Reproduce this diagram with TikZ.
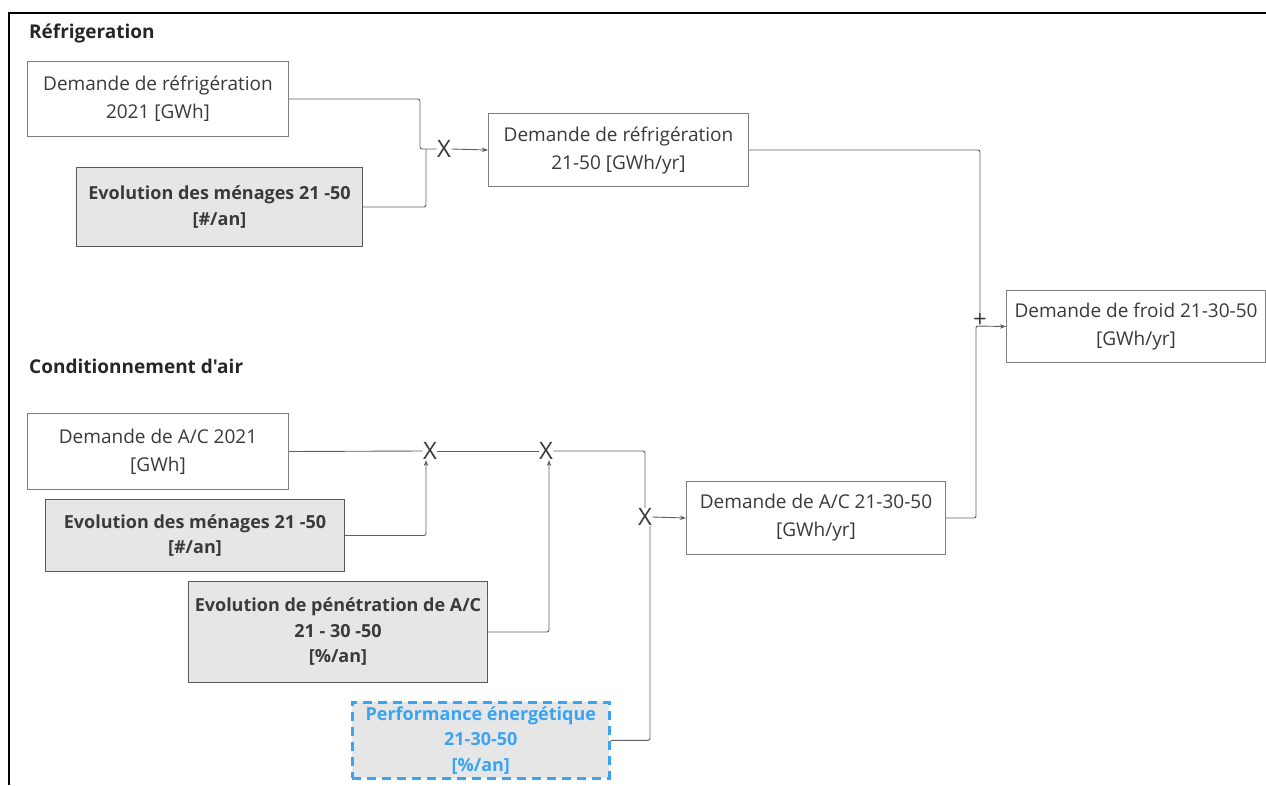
\documentclass[tikz,border=0pt]{standalone}
\usepackage{fontspec}
\setmainfont{Open Sans}
\newfontfamily\plainfont{Open Sans}
\usetikzlibrary{arrows.meta,calc}
\definecolor{txt}{HTML}{3A3A3A}
\definecolor{bord}{HTML}{7F7F7F}
\definecolor{gfill}{HTML}{E6E6E6}
\definecolor{gbord}{HTML}{5A5A5A}
\definecolor{blu}{HTML}{3AA3F2}
\definecolor{wire}{HTML}{5F5F5F}
\tikzset{
  box/.style={draw=bord, line width=1pt, fill=white, text=txt, align=center, anchor=north west, inner sep=0pt,
     font=\fontsize{19}{28}\selectfont},
  gbox/.style={box, fill=gfill, draw=gbord, font=\fontsize{18}{25.5}\selectfont\bfseries},
  bbox/.style={gbox, draw=blu, text=blu, dashed, dash pattern=on 9pt off 6pt, line width=2.6pt},
  title/.style={anchor=west, text=black!85, font=\fontsize{19}{22}\plainfont\bfseries, inner sep=0pt},
  xmark/.style={text=txt, inner sep=0.3pt, font=\fontsize{24}{24}\selectfont},
  conn/.style={draw=wire, line width=0.9pt, rounded corners=2pt},
  arr/.style={conn, -{Stealth[length=6pt,width=4.5pt]}},
}
\begin{document}
\begin{tikzpicture}[x=1pt,y=-1pt]
\useasboundingbox (0,0) rectangle (1266,785);
% frame
\draw[line width=2.6pt] (9,785) -- (9,13) -- (1266,13);
% titles
\node[title] (t1) at (29,34) {Réfrigeration};
\node[title] (t2) at (29,366) {Conditionnement d'air};
% refrigeration boxes
\node[box, minimum width=261pt, minimum height=75pt] (a1) at (27,61) {Demande de réfrigération\\2021 [GWh]};
\node[gbox, minimum width=286pt, minimum height=79pt] (a2) at (76,167) {Evolution des ménages 21 -50\\{}[\#/an]};
\node[box, minimum width=260pt, minimum height=73pt] (b) at (488,113) {Demande de réfrigération\\21-50 [GWh/yr]};
\node[box, minimum width=259pt, minimum height=72pt] (d) at (1006,290) {Demande de froid 21-30-50\\{}[GWh/yr]};
% AC boxes
\node[box, minimum width=261pt, minimum height=76pt] (c1) at (27,413) {Demande de A/C 2021\\{}[GWh]};
\node[gbox, minimum width=299pt, minimum height=72pt] (c2) at (45,499) {Evolution des ménages 21 -50\\{}[\#/an]};
\node[gbox, minimum width=299pt, minimum height=101pt] (c3) at (188,581) {Evolution de pénétration de A/C\\21 - 30 -50\\{}[\%/an]};
\node[bbox, minimum width=257pt, minimum height=76pt] (c4) at (351,701) {Performance énergétique\\21-30-50\\{}[\%/an]};
\node[box, minimum width=259pt, minimum height=73pt] (e) at (686,481) {Demande de A/C 21-30-50\\{}[GWh/yr]};
% operator marks
\node[xmark] (xr) at (444,149) {X};
\node[xmark] (x1) at (430,451) {X};
\node[xmark] (x2) at (546,451) {X};
\node[xmark] (x3) at (645,517) {X};
\node[xmark, font=\fontsize{24}{24}\selectfont] (pl) at (980,320) {+};
\coordinate (jr1) at (420,149);
\coordinate (jr2) at (426,149);
\coordinate (jd) at (976,326);
% refrigeration connectors
\draw[conn] (a1.east) -| (jr1) -- (xr.west);
\draw[conn] (a2.east) -| (jr2);
\draw[arr] (xr.east) -- (b.west);
\draw[conn] (b.east) -| (pl.north);
% AC connectors
\draw[conn] (c1.east) -- (x1.west);
\draw[conn] (x1.east) -- (x2.west);
\draw[conn] (x2.east) -| (x3.north);
\draw[arr] (c2.east) -| ([xshift=-4pt]x1.south);
\draw[arr] (c3.east) -| ([xshift=3pt]x2.south);
\draw[conn] (c4.east) -| ([xshift=5pt]x3.south);
\draw[arr] (x3.east) -- (e.west);
\draw[arr] (e.east) -| (jd) -- (d.west);
\end{tikzpicture}
\end{document}
